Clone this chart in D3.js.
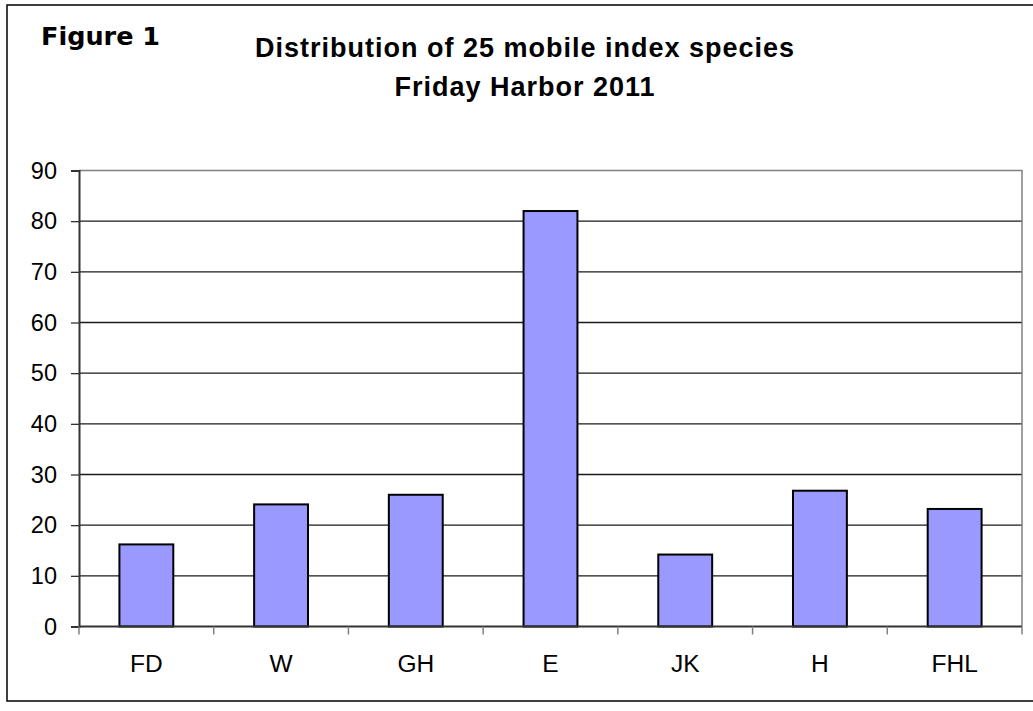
<!DOCTYPE html>
<html>
<head>
<meta charset="utf-8">
<script src="https://cdn.jsdelivr.net/npm/d3@7"></script>
<style>
  html, body { margin: 0; padding: 0; background: #fff; }
  svg { display: block; }
</style>
</head>
<body>
<svg id="chart" width="1033" height="711"></svg>
<script>
// Site codes and counts of mobile index species
const sites = ["FD", "W", "GH", "E", "JK", "H", "FHL"];
const counts = [16.2, 24.1, 26, 82, 14.2, 26.8, 23.2];
const yTicks = [0, 10, 20, 30, 40, 50, 60, 70, 80, 90];
const figureLabel = "Figure 1";
const titleLines = ["Distribution of 25 mobile index species", "Friday Harbor 2011"];

const svg = d3.select("#chart");
const W = 1033, H = 711;

// Outer frame
svg.append("rect")
  .attr("x", 7).attr("y", 5)
  .attr("width", W + 10).attr("height", 696)
  .attr("fill", "#fff").attr("stroke", "#000").attr("stroke-width", 1.5);

// Plot area
const plot = { left: 79, right: 1022, top: 170.5, bottom: 626.5 };

const y = d3.scaleLinear().domain([0, 90]).range([plot.bottom, plot.top]);
const xBand = d3.scaleBand().domain(sites).range([plot.left, plot.right]).padding(0);
const xBar = d3.scaleBand().domain(sites).range([plot.left, plot.right])
  .paddingInner(0.6).paddingOuter(0.3);

// Horizontal gridlines
svg.append("g")
  .selectAll("line")
  .data(yTicks.filter(t => t > 0 && t < 90))
  .join("line")
  .attr("x1", plot.left).attr("x2", plot.right)
  .attr("y1", d => y(d)).attr("y2", d => y(d))
  .attr("stroke", "#1a1a1a").attr("stroke-width", 1.3);

// Plot border (top and right)
svg.append("path")
  .attr("d", `M${plot.left},${y(90)}H${plot.right}V${plot.bottom}`)
  .attr("fill", "none").attr("stroke", "#808080").attr("stroke-width", 1.5);

// Bars
svg.append("g")
  .selectAll("rect")
  .data(sites.map((s, i) => ({ site: s, value: counts[i] })))
  .join("rect")
  .attr("x", d => xBar(d.site))
  .attr("y", d => y(d.value))
  .attr("width", xBar.bandwidth())
  .attr("height", d => y(0) - y(d.value))
  .attr("fill", "#9999ff")
  .attr("stroke", "#000").attr("stroke-width", 2);

// Y axis
const yAxis = svg.append("g")
  .attr("transform", `translate(${plot.left},0)`)
  .call(d3.axisLeft(y).tickValues(yTicks).tickSize(8).tickPadding(14).tickFormat(d3.format("d")));
yAxis.select(".domain").attr("stroke", "#333").attr("stroke-width", 2);
yAxis.selectAll(".tick line").attr("stroke", "#333").attr("stroke-width", 1.3);
yAxis.selectAll("text")
  .attr("font-family", "Liberation Sans, Arial, sans-serif")
  .attr("font-size", 23.5).attr("fill", "#000");

// X axis: tick marks at category boundaries
const boundaries = sites.map(s => xBand(s)).concat([plot.right]);
svg.append("line")
  .attr("x1", plot.left).attr("x2", plot.right)
  .attr("y1", plot.bottom).attr("y2", plot.bottom)
  .attr("stroke", "#333").attr("stroke-width", 2);
svg.append("g")
  .selectAll("line")
  .data(boundaries)
  .join("line")
  .attr("x1", d => d).attr("x2", d => d)
  .attr("y1", plot.bottom).attr("y2", plot.bottom + 8)
  .attr("stroke", "#808080").attr("stroke-width", 1.5);

svg.append("g")
  .selectAll("text")
  .data(sites)
  .join("text")
  .attr("x", d => xBand(d) + xBand.bandwidth() / 2)
  .attr("y", 672)
  .attr("text-anchor", "middle")
  .attr("font-family", "Liberation Sans, Arial, sans-serif")
  .attr("font-size", 24.5)
  .text(d => d);

// Figure label and title
svg.append("text")
  .attr("x", 41).attr("y", 45)
  .attr("font-family", "DejaVu Sans, Verdana, sans-serif")
  .attr("font-weight", "bold").attr("font-size", 25.5)
  .text(figureLabel);

svg.append("g")
  .selectAll("text")
  .data(titleLines)
  .join("text")
  .attr("x", 525)
  .attr("y", (d, i) => 56.5 + i * 39)
  .attr("text-anchor", "middle")
  .attr("font-family", "Liberation Sans, Arial, sans-serif")
  .attr("font-weight", "bold").attr("font-size", 27)
  .attr("letter-spacing", 1)
  .text(d => d);
</script>
</body>
</html>
